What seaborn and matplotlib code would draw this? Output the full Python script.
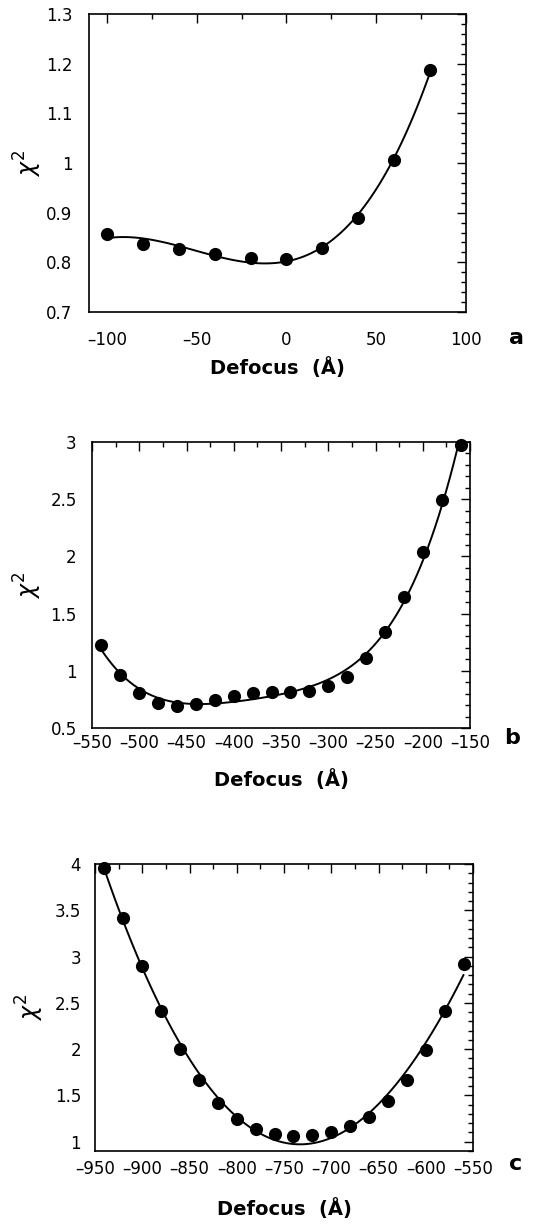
import numpy as np
import pandas as pd
import matplotlib
matplotlib.use("Agg")
import matplotlib.pyplot as plt
from matplotlib.ticker import MultipleLocator, FuncFormatter
import seaborn as sns

sns.set_theme(style="white")
plt.rcParams['font.family'] = ['DejaVu Sans']
plt.rcParams['mathtext.fontset'] = 'dejavusans'

# ---- data ----
defocus_a = [-100, -80, -60, -40, -20, 0, 20, 40, 60, 80]
chi2_a = [0.857, 0.836, 0.827, 0.817, 0.808, 0.807, 0.829, 0.890, 1.007, 1.187]

defocus_b = [-540, -520, -500, -480, -460, -440, -420, -400, -380, -360,
             -340, -320, -300, -280, -260, -240, -220, -200, -180, -160]
chi2_b = [1.227, 0.965, 0.805, 0.718, 0.695, 0.712, 0.747, 0.782, 0.805, 0.814,
          0.814, 0.826, 0.869, 0.950, 1.110, 1.337, 1.648, 2.040, 2.490, 2.977]

defocus_c = [-940, -920, -900, -880, -860, -840, -820, -800, -780, -760,
             -740, -720, -700, -680, -660, -640, -620, -600, -580, -560]
chi2_c = [3.96, 3.42, 2.90, 2.41, 2.00, 1.67, 1.42, 1.245, 1.135, 1.084,
          1.06, 1.07, 1.11, 1.17, 1.27, 1.44, 1.67, 1.99, 2.41, 2.92]

fit_orders = [3, 4, 3]
panel_letters = ["a", "b", "c"]
xlims = [(-110, 100), (-550, -150), (-950, -550)]
ylims = [(0.7, 1.3), (0.5, 3.0), (0.9, 4.0)]
x_major = [50, 50, 50]
x_minor = [25, 25, 25]
y_major = [0.1, 0.5, 0.5]
y_minor = [0.02, 0.1, 0.1]

W, H = 535, 1225
fig = plt.figure(figsize=(W / 100, H / 100), dpi=100)

# axes boxes in pixels (left, top, right, bottom)
boxes = [(89, 14, 466, 312), (92, 442, 470, 728), (95, 864, 473, 1151)]
datasets = [(defocus_a, chi2_a), (defocus_b, chi2_b), (defocus_c, chi2_c)]
xpad = [14.0, 4.5, 6.5]
ypad = [12.0, 11.0, 10.0]
xlabel_y = [368, 780, 1209]
ylabel_x = [28, 28, 30]
letter_xy = [(516, 338), (512, 738), (516, 1164)]

def fmt_y(v, pos):
    return f"{v:.10g}"

def fmt_x(v, pos):
    return f"{v:.0f}".replace("-", "\u2013")

for i, ((l, t, r, b), (xs, ys)) in enumerate(zip(boxes, datasets)):
    wpx, hpx = r - l, b - t
    ax = fig.add_axes([l / W, 1 - b / H, wpx / W, hpx / H])
    df = pd.DataFrame({"Defocus": xs, "chi2": ys})
    sns.regplot(data=df, x="Defocus", y="chi2", order=fit_orders[i], ci=None, ax=ax,
                scatter_kws=dict(s=90, color="black", alpha=1, linewidths=0,
                                 zorder=3, clip_on=False),
                line_kws=dict(color="black", lw=1.4))
    ax.set_xlim(*xlims[i])
    ax.set_ylim(*ylims[i])
    ax.xaxis.set_major_locator(MultipleLocator(x_major[i]))
    ax.xaxis.set_minor_locator(MultipleLocator(x_minor[i]))
    ax.yaxis.set_major_locator(MultipleLocator(y_major[i]))
    ax.yaxis.set_minor_locator(MultipleLocator(y_minor[i]))
    ax.yaxis.set_major_formatter(FuncFormatter(fmt_y))
    ax.xaxis.set_major_formatter(FuncFormatter(fmt_x))
    ax.tick_params(which="both", direction="in", top=True, right=True, colors="black",
                   labelsize=12, width=1.0)
    ax.tick_params(which="major", length=6.5)
    ax.tick_params(which="minor", length=3.8)
    ax.tick_params(axis="x", which="major", pad=xpad[i])
    ax.tick_params(axis="y", which="major", pad=ypad[i])
    for sp in ax.spines.values():
        sp.set_color("black")
        sp.set_linewidth(1.2)
    ax.set_xlabel("Defocus  (Å)", fontsize=14, fontweight="bold", color="black")
    ax.xaxis.label.set_va("center")
    ax.xaxis.set_label_coords(0.5, -(xlabel_y[i] - b) / hpx)
    ax.set_ylabel(r"$\chi^2$", fontsize=17, color="black")
    ax.yaxis.label.set_va("center")
    ax.yaxis.set_label_coords((ylabel_x[i] - l) / wpx, 0.5)
    lx, ly = letter_xy[i]
    ax.text((lx - l) / wpx, -(ly - b) / hpx, panel_letters[i], transform=ax.transAxes,
            fontsize=16, fontweight="bold", ha="center", va="center", color="black")

fig.savefig("out.png", dpi=100, facecolor="white")
